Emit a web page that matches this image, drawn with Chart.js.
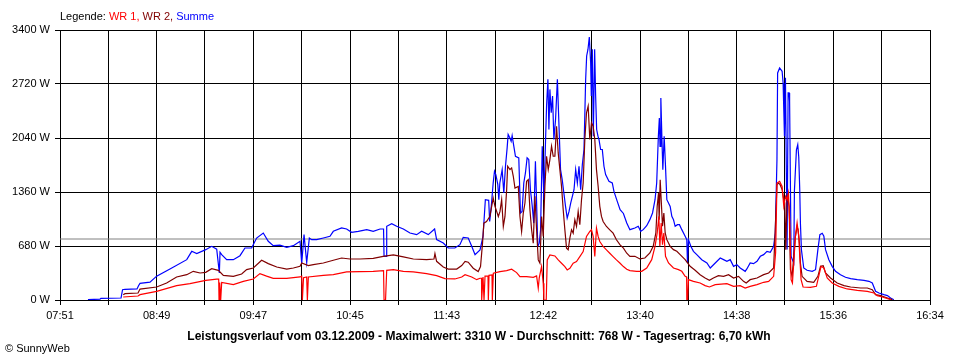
<!DOCTYPE html>
<html>
<head>
<meta charset="utf-8">
<title>Leistungsverlauf 03.12.2009</title>
<script src="https://cdn.jsdelivr.net/npm/chart.js@4.4.0/dist/chart.umd.min.js"></script>
<style>
  html, body { margin: 0; padding: 0; background: #fff; }
  #chart { display: block; }
</style>
</head>
<body>
<canvas id="chart" width="960" height="360"></canvas>
<script>
// Zeitachse in Minuten nach Mitternacht (07:51 = 471, 16:34 = 994)
var tickLabels = ['07:51', '08:49', '09:47', '10:45', '11:43', '12:42', '13:40', '14:38', '15:36', '16:34'];
var xStart = 471, xEnd = 994, xSteps = 18;
var yMax = 3400, yStep = 680;
var durchschnitt = 768;
var titel = 'Leistungsverlauf vom 03.12.2009 - Maximalwert: 3310 W - Durchschnitt: 768 W - Tagesertrag: 6,70 kWh';

// WR 1
var wr1Min = [509.0,517.9,519.1,529.1,541.1,549.1,558.6,565.2,566.4,566.6,567.0,567.6,568.2,575.2,581.2,587.2,591.2,595.2,599.2,607.3,615.3,616.3,616.7,617.4,619.3,619.7,620.3,629.3,635.3,643.3,659.3,665.5,665.8,666.7,667.4,671.4,677.4,683.4,691.4,697.4,702.4,708.4,712.5,714.5,718.5,721.5,723.5,724.4,724.5,725.3,725.9,726.5,728.3,728.5,728.9,730.7,730.9,731.5,735.5,739.5,742.5,745.5,747.5,751.5,755.5,757.5,758.5,759.1,760.5,761.5,761.9,763.3,763.9,765.5,768.5,770.5,772.5,774.5,775.9,777.5,779.5,781.5,783.5,785.5,787.5,789.5,790.5,791.5,792.5,793.5,794.5,795.5,797.5,799.5,801.5,803.5,805.5,807.7,809.7,811.7,813.6,817.6,820.7,823.7,826.7,828.7,830.0,831.0,831.6,832.4,833.2,834.0,835.0,836.8,839.8,842.8,844.8,846.8,847.7,847.8,848.3,848.8,851.8,855.8,858.8,861.4,864.9,871.9,875.9,879.9,882.9,885.9,890.0,894.0,897.0,900.0,901.2,902.0,903.6,905.1,906.1,907.1,908.1,908.9,909.6,910.5,911.3,912.1,913.1,914.1,915.1,915.7,916.5,917.7,922.1,925.7,927.1,928.5,930.2,932.2,935.2,939.2,944.2,950.3,956.3,960.3,962.3,965.3,970.4];
var wr1W = [38,50,67,109,180,206,248,264,264,0,220,0,222,193,235,264,332,300,273,273,290,300,0,280,290,0,290,311,319,353,361,370,0,0,374,382,361,353,332,306,269,265,290,319,290,256,274,274,0,290,0,300,300,0,310,316,0,337,358,370,387,345,295,295,286,303,147,280,421,210,0,0,505,568,555,505,463,421,379,400,463,484,547,610,800,863,884,800,547,905,800,737,674,632,589,547,505,463,421,388,370,361,361,403,508,676,844,1054,676,970,697,844,550,466,403,382,361,298,290,0,0,256,235,214,181,164,193,206,172,181,151,172,193,223,235,298,600,1473,1494,1431,1180,1305,1264,1347,1010,256,214,466,802,970,802,550,256,164,160,172,298,424,403,277,214,172,139,122,109,88,55,38,4];

// WR 2
var wr2Min = [509.0,510.1,517.9,519.1,529.1,535.1,541.1,547.2,551.1,555.2,558.6,562.2,566.2,569.2,575.2,580.2,583.2,587.2,592.2,596.2,601.3,607.3,611.3,615.3,616.3,620.3,623.3,629.3,635.3,640.3,645.3,651.3,659.3,665.3,671.4,677.4,683.4,691.4,695.8,696.4,697.4,701.4,704.4,709.5,712.5,714.5,716.4,719.4,722.4,723.8,725.0,725.8,727.4,729.4,731.4,732.5,733.5,734.5,735.5,736.5,737.5,738.5,739.5,740.1,741.5,742.5,743.5,744.5,746.5,747.5,748.5,749.5,750.5,751.5,752.5,753.5,754.5,755.5,756.5,757.5,758.5,759.5,760.5,761.5,762.5,763.5,764.5,765.5,766.5,767.5,768.5,769.5,770.5,771.5,772.5,773.5,774.5,775.5,776.5,777.5,778.5,779.5,780.5,781.5,782.5,783.5,784.5,785.5,786.5,787.5,788.5,789.5,790.5,791.5,792.5,793.5,794.5,795.5,796.5,797.5,799.5,801.5,803.5,805.5,807.7,809.7,811.7,813.6,816.6,819.6,822.6,825.6,827.6,829.2,830.0,830.8,831.2,831.8,832.4,833.2,834.0,834.8,835.8,837.8,839.8,841.8,843.8,846.8,849.8,852.8,855.8,858.8,861.4,863.8,866.8,869.9,872.9,875.9,878.9,881.9,883.5,885.9,890.0,894.0,897.0,900.0,901.0,902.0,902.9,903.9,905.1,906.1,906.7,907.3,908.1,908.7,909.3,910.1,911.1,912.1,913.1,914.1,914.7,915.5,916.1,917.1,920.1,924.1,926.6,928.2,929.8,931.2,934.2,938.2,942.3,946.3,952.3,956.3,959.3,961.3,964.3,968.4,971.4];
var wr2W = [67,80,88,138,164,214,290,319,361,340,348,395,374,311,298,328,382,403,500,458,416,390,403,424,466,433,445,466,500,529,516,516,525,550,567,542,516,508,516,584,487,416,390,390,433,487,476,400,358,421,716,968,989,1052,1284,1179,1116,1052,1116,1263,926,1052,1389,1684,1642,1663,1558,1410,1431,1052,863,1095,1221,1495,1516,1137,884,716,1305,884,505,463,1052,800,1432,1810,1642,1768,1937,1810,1810,2189,1852,1642,1431,1137,884,653,632,779,884,842,1010,926,1116,947,1263,1474,2021,2358,2442,2021,2232,2189,2021,1642,1432,1179,1052,989,926,884,842,758,695,653,589,550,550,517,529,592,676,844,1180,1348,1011,1515,1264,928,1096,844,760,676,634,613,571,508,424,374,319,277,248,277,306,298,319,277,298,235,214,256,277,319,340,403,907,1452,1473,1452,1390,1264,1222,634,1306,1264,1180,382,298,550,802,928,886,718,466,298,235,223,298,424,433,340,277,214,181,164,151,151,130,67,55,25,4];

// Summe
var summeMin = [487.8,495.0,495.6,507.7,508.6,510.1,517.3,518.2,519.1,525.1,529.1,537.1,547.2,550.2,553.2,558.6,562.2,565.2,566.8,567.2,568.2,571.2,575.2,579.2,582.2,586.2,589.2,593.2,596.2,599.2,603.2,607.3,611.3,615.3,616.3,617.7,619.3,620.9,622.3,625.3,629.3,633.3,635.3,640.3,643.3,646.3,650.3,655.4,659.3,663.4,665.5,665.8,667.0,667.4,670.4,673.4,677.4,681.4,685.4,688.4,692.4,696.2,697.4,701.4,704.4,708.4,711.4,713.4,716.4,718.5,720.5,723.5,725.3,726.7,728.7,729.3,730.1,731.4,732.2,733.0,734.2,734.8,735.4,736.8,737.8,738.8,739.8,740.4,741.4,742.2,742.8,743.8,744.8,746.8,747.8,748.8,749.8,750.8,751.8,752.8,753.8,754.8,755.8,756.8,757.4,758.2,759.1,759.9,760.9,761.9,762.9,763.5,764.3,764.9,765.5,766.3,767.1,767.9,768.9,770.0,770.9,771.9,772.9,773.9,774.9,775.9,777.0,778.0,779.0,780.0,781.0,782.0,783.0,784.0,785.0,786.0,787.0,787.6,788.4,789.2,790.0,790.4,791.0,791.6,792.4,793.0,793.6,794.4,795.0,796.0,797.0,798.0,799.0,801.0,803.0,804.0,806.0,807.7,809.7,811.7,813.6,816.6,818.6,820.1,821.6,823.7,825.6,827.2,828.7,829.7,830.7,831.3,831.7,832.2,832.8,833.4,834.2,835.0,835.8,836.8,837.8,838.8,839.8,840.8,842.2,843.4,844.8,846.8,847.8,848.2,848.8,850.2,851.8,853.8,856.8,859.9,861.9,864.9,867.9,869.9,871.9,873.9,875.9,877.9,879.9,882.9,883.9,885.9,887.9,890.0,892.0,894.0,896.0,898.0,900.0,901.0,902.0,902.4,903.6,905.1,905.7,906.1,906.5,907.1,908.1,908.7,909.3,909.6,910.5,911.3,912.1,912.5,913.1,913.7,914.5,915.1,915.7,916.1,916.7,918.1,920.1,923.2,925.2,926.6,927.8,929.2,930.2,931.2,933.2,935.2,937.2,940.2,943.2,946.3,950.3,954.3,957.3,959.3,961.3,963.3,966.3,968.4,970.3,972.3];
var summeW = [5,10,20,25,130,135,140,180,210,225,300,390,508,613,585,634,676,640,340,600,571,508,508,558,655,655,780,843,739,684,690,664,684,739,460,823,470,780,760,760,781,802,865,907,894,852,865,886,865,894,894,550,550,928,961,928,894,844,823,865,823,894,760,718,655,655,697,789,781,676,571,630,800,1263,1255,990,1137,1474,1621,1579,1453,1263,1474,1642,1347,1684,1916,2084,2042,1999,2070,1937,1810,1789,1095,1116,1474,1600,1789,1768,1389,1200,968,1747,1305,674,716,884,1937,1263,2021,2442,2779,2147,2652,2358,2568,2021,2274,2779,2232,1642,1516,1347,1179,1031,1116,1221,1305,1389,1642,1474,1684,1389,1705,1895,2779,3073,3158,3310,2989,2568,3158,2063,3158,2568,2147,2063,2021,1895,1895,1684,1579,1495,1474,1368,1242,1137,1090,970,886,907,928,865,886,936,1012,1096,1263,1473,2061,2292,1935,2544,2061,1641,2061,1683,1263,1221,1179,1054,1012,928,949,949,886,802,760,466,760,676,613,571,508,466,403,466,529,508,487,508,424,445,403,361,391,466,458,487,550,571,613,600,676,844,1767,2859,2922,2880,2733,2400,2061,2800,636,2607,2607,2500,550,508,466,1380,1637,1890,1956,1800,1389,970,634,403,374,361,382,634,823,840,802,634,508,424,361,319,286,269,256,248,235,214,109,88,67,55,25,4];

function punkte(t, v) {
  var a = [];
  for (var i = 0; i < t.length; i++) a.push({ x: t[i], y: v[i] });
  return a;
}

var schrift = '"Liberation Sans", Arial, sans-serif';

// Legende, Titel und Copyright als Text auf die Leinwand
var textPlugin = {
  id: 'texte',
  afterDraw: function (chart) {
    var c = chart.ctx;
    c.save();
    c.textBaseline = 'middle';
    c.textAlign = 'left';
    c.font = '11px ' + schrift;
    var x = chart.chartArea.left;
    var teile = [['Legende: ', '#000000']];
    var ds = chart.data.datasets;
    for (var i = 0; i < 3; i++) {
      teile.push([ds[i].label + (i < 2 ? ', ' : ''), ds[i].borderColor]);
    }
    teile.forEach(function (p) {
      c.fillStyle = p[1];
      c.fillText(p[0], x, 17);
      x += c.measureText(p[0]).width;
    });

    c.fillStyle = '#000';
    c.font = 'bold 12px ' + schrift;
    c.textAlign = 'center';
    c.fillText(titel, 479, 337, 594);

    c.textAlign = 'left';
    c.font = '11px ' + schrift;
    c.fillText('\u00A9 SunnyWeb', 5, 349);
    c.restore();
  }
};

var linie = { borderWidth: 1.2, pointRadius: 0, tension: 0, fill: false };

var ctx = document.getElementById('chart').getContext('2d');
var myChart = new Chart(ctx, {
  type: 'line',
  data: {
    datasets: [
      Object.assign({ label: 'WR 1', data: punkte(wr1Min, wr1W), borderColor: '#ff0000', order: 1 }, linie),
      Object.assign({ label: 'WR 2', data: punkte(wr2Min, wr2W), borderColor: '#800000', order: 2 }, linie),
      Object.assign({ label: 'Summe', data: punkte(summeMin, summeW), borderColor: '#0000ff', order: 3 }, linie),
      Object.assign({ label: 'Durchschnitt', data: [{ x: xStart, y: durchschnitt }, { x: xEnd, y: durchschnitt }],
        borderColor: '#808080', order: 4 }, linie, { borderWidth: 1 })
    ]
  },
  options: {
    responsive: false,
    animation: false,
    events: [],
    layout: { padding: { top: 30, right: 30, left: 0, bottom: 0 } },
    plugins: {
      legend: { display: false },
      tooltip: { enabled: false },
      title: { display: false }
    },
    scales: {
      x: {
        type: 'linear',
        min: xStart,
        max: xEnd,
        afterBuildTicks: function (s) {
          var t = [];
          for (var i = 0; i <= xSteps; i++) t.push({ value: xStart + i * (xEnd - xStart) / xSteps });
          s.ticks = t;
        },
        afterFit: function (s) { s.height = 60; },
        ticks: {
          autoSkip: false,
          maxRotation: 0,
          color: '#000',
          padding: 4,
          font: { family: schrift, size: 11 },
          callback: function (v, i) { return i % 2 === 0 ? tickLabels[i / 2] : ''; }
        },
        grid: { color: '#000', lineWidth: 1, tickLength: 5, tickColor: '#000' },
        border: { color: '#000', width: 1 }
      },
      y: {
        min: 0,
        max: yMax,
        afterFit: function (s) { s.width = 60; },
        ticks: {
          stepSize: yStep,
          color: '#000',
          padding: 5,
          font: { family: schrift, size: 11 },
          callback: function (v) { return v + ' W'; }
        },
        grid: { color: '#000', lineWidth: 1, tickLength: 5, tickColor: '#000' },
        border: { color: '#000', width: 1 }
      }
    }
  },
  plugins: [textPlugin]
});
</script>
</body>
</html>
